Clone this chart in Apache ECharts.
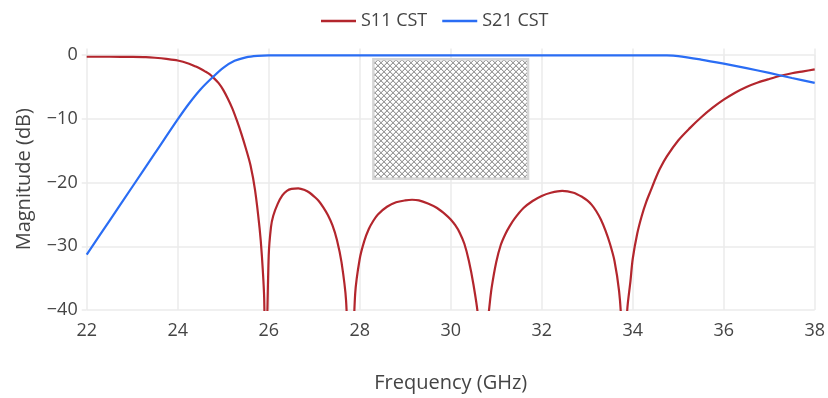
<!DOCTYPE html>
<html>
<head>
<meta charset="utf-8">
<script src="https://cdn.jsdelivr.net/npm/echarts@6/dist/echarts.min.js"></script>
<style>
  html, body { margin: 0; padding: 0; background: #fff; }
  #chart { width: 828px; height: 398px; }
</style>
</head>
<body>
<div id="chart"></div>
<script>
// Frequency sweep (GHz) and reflection magnitude S11 (dB)
const s11Freq = [
  22.0, 22.5, 23.0, 23.3, 23.5, 23.75, 24.0, 24.25, 24.4, 24.5,
  24.6, 24.7, 24.8, 24.9, 25.0, 25.1, 25.2, 25.3, 25.4, 25.5,
  25.6, 25.7, 25.8, 25.85, 25.9, 25.93, 26.0, 26.05, 26.1, 26.2,
  26.3, 26.4, 26.5, 26.65, 26.8, 26.9, 27.0, 27.1, 27.2, 27.3,
  27.4, 27.5, 27.6, 27.7, 27.8, 27.9, 28.0, 28.1, 28.2, 28.3,
  28.4, 28.6, 28.8, 29.0, 29.15, 29.3, 29.5, 29.7, 29.9, 30.0,
  30.1, 30.2, 30.3, 30.4, 30.5, 30.6, 30.7, 30.8, 30.85, 30.9,
  31.0, 31.1, 31.2, 31.3, 31.4, 31.6, 31.8, 32.0, 32.2, 32.45,
  32.7, 32.9, 33.0, 33.1, 33.2, 33.3, 33.4, 33.5, 33.6, 33.7,
  33.75, 33.8, 33.88, 33.95, 34.0, 34.1, 34.2, 34.3, 34.4, 34.5,
  34.6, 34.75, 35.0, 35.25, 35.5, 35.75, 36.0, 36.25, 36.5, 36.75,
  37.0, 37.25, 37.5, 37.75, 38.0
];
const s11Db = [
  -0.26, -0.26, -0.28, -0.32, -0.42, -0.6, -0.85, -1.35, -1.8, -2.15,
  -2.55, -3.0, -3.65, -4.4, -5.45, -6.8, -8.35, -10.25, -12.35, -14.7,
  -17.3, -21.2, -27.2, -31.5, -38.0, -52.0, -31.5, -27.0, -25.2, -23.3,
  -22.0, -21.3, -21.0, -20.9, -21.2, -21.6, -22.2, -22.9, -23.9, -25.1,
  -26.7, -29.0, -32.5, -38.5, -55.0, -37.5, -32.0, -29.2, -27.3, -26.0,
  -25.0, -23.8, -23.1, -22.8, -22.7, -22.8, -23.3, -24.0, -25.1, -25.8,
  -26.7, -27.9, -29.6, -32.3, -36.0, -41.0, -55.0, -43.0, -39.5, -36.5,
  -32.5, -29.8, -28.1, -26.8, -25.7, -24.0, -22.9, -22.1, -21.6, -21.3,
  -21.6, -22.3, -22.8, -23.5, -24.5, -25.8, -27.5, -29.6, -32.3, -37.0,
  -42.0, -55.0, -40.0, -35.5, -32.0, -28.0, -25.2, -23.0, -21.2, -19.4,
  -17.8, -15.9, -13.4, -11.5, -9.8, -8.3, -7.0, -5.9, -5.0, -4.3,
  -3.75, -3.25, -2.85, -2.55, -2.25
];

// Transmission magnitude S21 (dB)
const s21Freq = [
  22.0, 22.5, 23.0, 23.5, 24.0, 24.25, 24.5, 24.75, 25.0, 25.25,
  25.5, 25.75, 26.0, 27.0, 28.0, 30.0, 32.0, 34.0, 34.75, 35.0,
  35.5, 36.0, 36.5, 37.0, 37.5, 38.0
];
const s21Db = [
  -31.3, -26.0, -20.7, -15.4, -10.1, -7.6, -5.4, -3.6, -2.0, -0.9,
  -0.35, -0.12, -0.05, -0.05, -0.05, -0.05, -0.05, -0.05, -0.06, -0.15,
  -0.7, -1.35, -2.05, -2.8, -3.6, -4.35
];

// Axis ranges and tick spacing
const xRange = [22, 38];
const xStep = 2;
const yRange = [-40, 1.05];
const yStep = 10;

// Placeholder block drawn inside the passband (GHz, dB corners)
const insetBox = [[28.3, -0.65], [31.7, -19.4]];

const seriesNames = ['S11 CST', 'S21 CST'];
const seriesColors = ['#b3262d', '#2a6df4'];

function pairs(xs, ys) { return xs.map((x, i) => [x, ys[i]]); }

// Cross-hatch tile for the placeholder block, set pixel by pixel
function hatchTile() {
  const n = 6;
  const c = document.createElement('canvas');
  c.width = n; c.height = n;
  const g = c.getContext('2d');
  g.fillStyle = '#ffffff';
  g.fillRect(0, 0, n, n);
  for (let i = 0; i < n; i++) {
    const a = i, b = (n - 1 - i);
    g.fillStyle = '#dcdcdc';
    g.fillRect((a + 1) % n, i, 1, 1);
    g.fillRect((b + n - 1) % n, i, 1, 1);
    g.fillStyle = '#9c9c9c';
    g.fillRect(a, i, 1, 1);
    g.fillRect(b, i, 1, 1);
  }
  return c;
}

const FONT = '"Open Sans", "Noto Sans", sans-serif';
const GRID = '#ebebeb';

const chart = echarts.init(document.getElementById('chart'), null, { renderer: 'canvas' });
chart.setOption({
  animation: false,
  textStyle: { fontFamily: FONT, color: '#444' },
  legend: {
    top: 7,
    left: 316,
    icon: 'rect',
    itemWidth: 35,
    itemHeight: 2.5,
    itemGap: 15,
    textStyle: { fontFamily: FONT, fontSize: 18, color: '#444' },
    data: seriesNames
  },
  grid: { left: 86.7, right: 13, top: 48.4, bottom: 86.5, containLabel: false },
  xAxis: {
    type: 'value',
    min: xRange[0], max: xRange[1], interval: xStep,
    name: 'Frequency (GHz)',
    nameLocation: 'middle',
    nameGap: 63,
    nameTextStyle: { fontFamily: FONT, fontSize: 20, color: '#444' },
    axisLine: { show: false },
    axisTick: { show: true, length: 5, lineStyle: { color: GRID, width: 1.5 } },
    axisLabel: { fontFamily: FONT, fontSize: 18, color: '#444', margin: 12 },
    splitLine: { show: true, lineStyle: { color: GRID, width: 1.5 } }
  },
  yAxis: {
    type: 'value',
    min: yRange[0], max: yRange[1], interval: yStep,
    name: 'Magnitude (dB)',
    nameLocation: 'middle',
    nameGap: 52,
    nameTextStyle: { fontFamily: FONT, fontSize: 20, color: '#444' },
    axisLine: { show: false },
    axisTick: { show: true, length: 5, lineStyle: { color: GRID, width: 1.5 } },
    axisLabel: {
      fontFamily: FONT, fontSize: 18, color: '#444', margin: 9,
      showMaxLabel: false,
      formatter: v => (v % yStep === 0 ? String(v).replace('-', '\u2212') : '')
    },
    splitLine: { show: true, showMaxLine: false, lineStyle: { color: GRID, width: 1.5 } }
  },
  series: [
    {
      name: seriesNames[0],
      type: 'line',
      data: pairs(s11Freq, s11Db),
      symbol: 'none',
      smooth: 0.3,
      clip: true,
      lineStyle: { color: seriesColors[0], width: 2.2 },
      itemStyle: { color: seriesColors[0] },
      z: 3
    },
    {
      name: seriesNames[1],
      type: 'line',
      data: pairs(s21Freq, s21Db),
      symbol: 'none',
      smooth: 0.3,
      clip: true,
      lineStyle: { color: seriesColors[1], width: 2.2 },
      itemStyle: { color: seriesColors[1] },
      z: 4,
      markArea: {
        silent: true,
        z: 1,
        itemStyle: {
          color: { image: hatchTile(), repeat: 'repeat' },
          borderColor: '#d6d6d6',
          borderWidth: 2.5,
          opacity: 1
        },
        data: [[{ coord: insetBox[0] }, { coord: insetBox[1] }]]
      }
    }
  ]
});
</script>
</body>
</html>
